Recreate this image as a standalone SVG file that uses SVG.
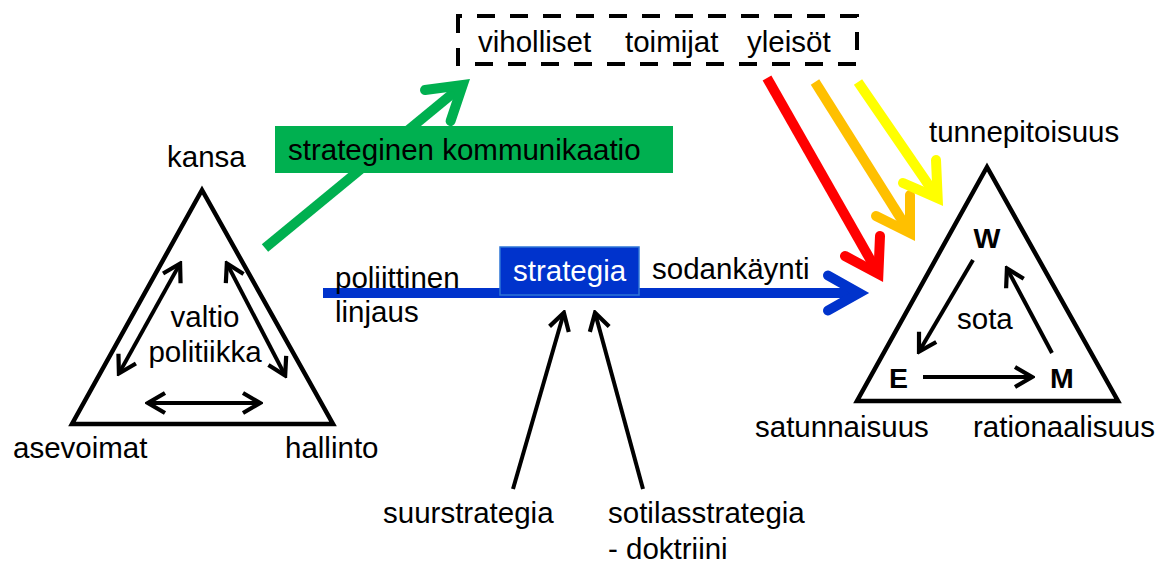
<svg xmlns="http://www.w3.org/2000/svg" width="1171" height="563" viewBox="0 0 1171 563">
  <style>
    text { font-family: "Liberation Sans", Arial, sans-serif; font-size: 29.5px; fill: #000; }
    .bold { font-weight: bold; font-size: 28.5px; }
    .white { fill: #fff; }
    .tri { fill: none; stroke: #000; stroke-width: 4.5; stroke-linejoin: miter; }
    .blk { fill: none; stroke: #000; stroke-width: 4; }
    .thick { fill: none; stroke-width: 10; stroke-linecap: butt; }
    .head { fill: none; stroke-width: 10; stroke-linecap: round; stroke-linejoin: miter; stroke-miterlimit: 10; }
    .green { stroke: #00b050; }
    .blue { stroke: #0033cc; }
    .red { stroke: #ff0000; }
    .orange { stroke: #ffc000; }
    .yellow { stroke: #ffff00; }
  </style>
  <defs>
    <marker id="ah" viewBox="-22 -13 26 26" refX="0" refY="0" markerWidth="26" markerHeight="26" markerUnits="userSpaceOnUse" orient="auto-start-reverse">
      <path d="M-16,-10 L1,0 L-16,10" fill="none" stroke="#000" stroke-width="4.2" stroke-linejoin="miter"/>
    </marker>
  </defs>
  <rect width="1171" height="563" fill="#fff"/>

  <g id="connectors">
    <!-- green strategic communication arrow -->
    <line class="thick green" x1="265" y1="248" x2="463" y2="85"/>
    <path class="head green" d="M425,90 L462.7,85 L450.6,121"/>
    <!-- blue policy arrow -->
    <line class="thick blue" x1="323" y1="293" x2="859" y2="293"/>
    <path class="head blue" d="M828,275.5 L859,293 L828,310.5"/>
    <!-- red / orange / yellow arrows -->
    <line class="thick red" x1="767" y1="78" x2="878.4" y2="273.8"/>
    <path class="head red" d="M845,256 L878.4,273.8 L880,236"/>
    <line class="thick orange" x1="815" y1="82" x2="910" y2="233"/>
    <path class="head orange" d="M876,216 L910,233 L910,195"/>
    <line class="thick yellow" x1="858" y1="82" x2="937.7" y2="198.2"/>
    <path class="head yellow" d="M903,183 L937.7,198.2 L936,160"/>
    <!-- strategy inputs -->
    <line class="blk" x1="513" y1="489" x2="563.6" y2="313.8" marker-end="url(#ah)"/>
    <line class="blk" x1="643" y1="489" x2="595.3" y2="313.8" marker-end="url(#ah)"/>
    <!-- left triangle inner arrows -->
    <line class="blk" x1="179.6" y1="264.4" x2="119.4" y2="372.6" marker-start="url(#ah)" marker-end="url(#ah)"/>
    <line class="blk" x1="227.3" y1="264.4" x2="284.7" y2="374.6" marker-start="url(#ah)" marker-end="url(#ah)"/>
    <line class="blk" x1="149" y1="403" x2="259" y2="403" marker-start="url(#ah)" marker-end="url(#ah)"/>
    <!-- right triangle inner arrows -->
    <line class="blk" x1="973" y1="260" x2="919.5" y2="350.7" marker-end="url(#ah)"/>
    <line class="blk" x1="1052" y1="353" x2="1007.4" y2="269.4" marker-end="url(#ah)"/>
    <line class="blk" x1="923" y1="377" x2="1031" y2="377" marker-end="url(#ah)"/>
  </g>

  <g id="node-valtio">
    <polygon class="tri" points="202,190 72,424 333,424"/>
    <text x="167" y="167">kansa</text>
    <text x="205" y="327" text-anchor="middle">valtio</text>
    <text x="205" y="362" text-anchor="middle">politiikka</text>
    <text x="13" y="458">asevoimat</text>
    <text x="285" y="458">hallinto</text>
  </g>

  <g id="node-kommunikaatio">
    <rect x="275" y="126" width="398" height="47" fill="#00b050"/>
    <text x="288" y="160">strateginen kommunikaatio</text>
  </g>

  <g id="node-yleisot">
    <rect x="458" y="16" width="399" height="48" fill="none" stroke="#000" stroke-width="4" stroke-dasharray="18 15" stroke-dashoffset="14"/>
    <text x="478" y="52">viholliset</text>
    <text x="625" y="52">toimijat</text>
    <text x="747" y="52">yleisöt</text>
  </g>

  <g id="node-strategia">
    <rect x="500" y="247" width="139" height="48" fill="#0033cc" stroke="#2e75d6" stroke-width="1.5"/>
    <text class="white" x="513" y="281">strategia</text>
  </g>

  <g id="labels-line">
    <text x="335" y="288">poliittinen</text>
    <text x="335" y="322">linjaus</text>
    <text x="652" y="279">sodankäynti</text>
  </g>

  <g id="node-sota">
    <polygon class="tri" points="987,167 857,401 1118,401"/>
    <text x="929" y="142">tunnepitoisuus</text>
    <text class="bold" x="987" y="248" text-anchor="middle">W</text>
    <text x="957" y="329">sota</text>
    <text class="bold" x="889" y="388">E</text>
    <text class="bold" x="1050" y="388">M</text>
    <text x="755" y="437">satunnaisuus</text>
    <text x="973" y="437">rationaalisuus</text>
  </g>

  <g id="node-suurstrategia">
    <text x="383" y="523">suurstrategia</text>
  </g>
  <g id="node-sotilasstrategia">
    <text x="608" y="523">sotilasstrategia</text>
    <text x="608" y="559">- doktriini</text>
  </g>
</svg>
